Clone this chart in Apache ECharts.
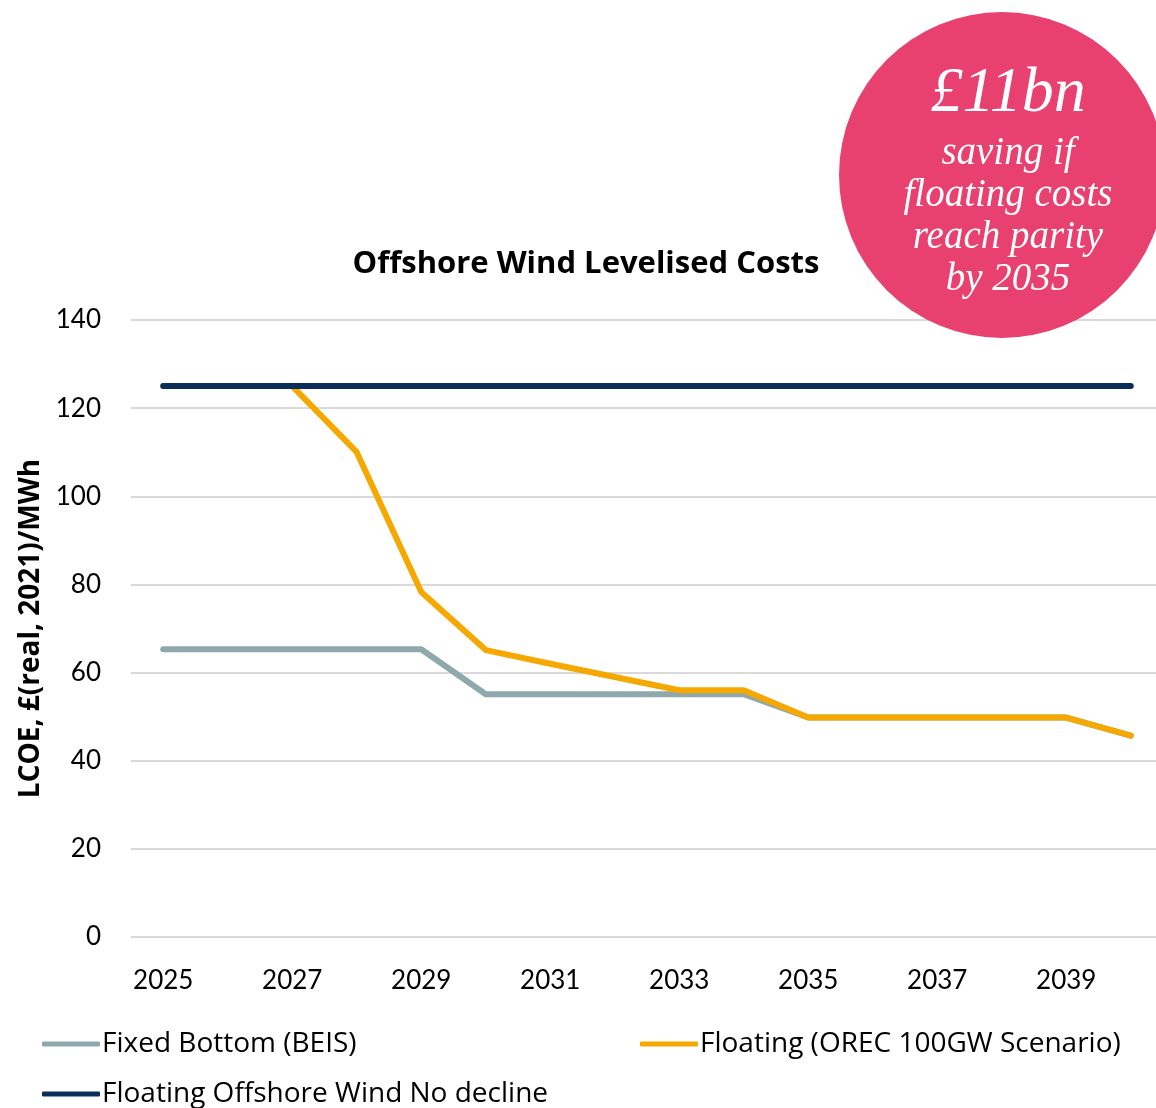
<!DOCTYPE html>
<html>
<head>
<meta charset="utf-8">
<script src="https://cdn.jsdelivr.net/npm/echarts@6/dist/echarts.min.js"></script>
<style>
html,body{margin:0;padding:0;background:#fff;}
#chart{width:1156px;height:1108px;}
</style>
</head>
<body>
<div id="chart"></div>
<script>
const years = ['2025','2026','2027','2028','2029','2030','2031','2032','2033','2034','2035','2036','2037','2038','2039','2040'];
const fixedBottom = [65.3,65.3,65.3,65.3,65.3,55.1,55.1,55.1,55.1,55.1,49.8,49.8,49.8,49.8,49.8,45.7];
const floatingOrec = [125,125,125,110,78.3,65.1,62,59,56,56,49.8,49.8,49.8,49.8,49.8,45.7];
const floatingNoDecline = [125,125,125,125,125,125,125,125,125,125,125,125,125,125,125,125];
const yTicks = {min:0, max:140, interval:20};
const seriesNames = ['Fixed Bottom (BEIS)','Floating (OREC 100GW Scenario)','Floating Offshore Wind No decline'];

const font = 'Lato, "Open Sans", sans-serif';
const font2 = '"Open Sans", Lato, sans-serif';
const chart = echarts.init(document.getElementById('chart'), null, {renderer:'canvas'});
const legendCommon = {
  orient:'horizontal', icon:'roundRect', itemWidth:58, itemHeight:5, itemGap:10, padding:0,
  textStyle:{fontFamily:font2, fontSize:28, color:'#000', padding:[0,0,0,-3]},
  selectedMode:false
};
chart.setOption({
  animation:false,
  backgroundColor:'#fff',
  title:{
    text:'Offshore Wind Levelised Costs', left:581, textAlign:'center', top:244,
    textStyle:{fontFamily:font2, fontSize:31, fontWeight:'bold', color:'#000'}
  },
  grid:{left:131, top:320, height:617, width:1032, outerBoundsMode:'none', containLabel:false},
  legend:[
    Object.assign({}, legendCommon, {data:[seriesNames[0]], left:42, top:1030}),
    Object.assign({}, legendCommon, {data:[seriesNames[1]], left:640, top:1030}),
    Object.assign({}, legendCommon, {data:[seriesNames[2]], left:42, top:1080})
  ],
  xAxis:{
    type:'category', data:years, boundaryGap:true,
    axisLine:{show:false}, axisTick:{show:false},
    axisLabel:{interval:1, fontFamily:font, fontSize:26, color:'#000', margin:31}
  },
  yAxis:{
    type:'value', min:yTicks.min, max:yTicks.max, interval:yTicks.interval,
    name:'LCOE, £(real, 2021)/MWh', nameLocation:'middle', nameGap:86,
    nameTextStyle:{fontFamily:font2, fontSize:28, fontWeight:'bold', color:'#000'},
    axisLine:{show:false}, axisTick:{show:false},
    axisLabel:{fontFamily:font, fontSize:26, color:'#000', margin:30},
    splitLine:{lineStyle:{color:'#d9d9d9', width:2}}
  },
  series:[
    {name:seriesNames[0], type:'line', data:fixedBottom, symbol:'none',
     lineStyle:{color:'#8EA8AC', width:6, cap:'round', join:'round'}, itemStyle:{color:'#8EA8AC'}},
    {name:seriesNames[1], type:'line', data:floatingOrec, symbol:'none',
     lineStyle:{color:'#F5A800', width:6, cap:'round', join:'round'}, itemStyle:{color:'#F5A800'}},
    {name:seriesNames[2], type:'line', data:floatingNoDecline, symbol:'none',
     lineStyle:{color:'#0B2D5B', width:6, cap:'round', join:'round'}, itemStyle:{color:'#0B2D5B'}}
  ],
  graphic:[
    {type:'circle', shape:{cx:1002, cy:175, r:163}, style:{fill:'#E8406F'}, z:100},
    {type:'text', x:1008, y:126, z:101, style:{text:'£11bn', fill:'#fff', textAlign:'center', textVerticalAlign:'bottom',
      font:'italic 64px "Liberation Serif", "DejaVu Serif", serif'}},
    {type:'text', x:1008, y:217, z:101, style:{text:'saving if\nfloating costs\nreach parity\nby 2035', fill:'#fff', textAlign:'center',
      textVerticalAlign:'middle', lineHeight:42,
      font:'italic 39px "Liberation Serif", "DejaVu Serif", serif'}}
  ]
});
</script>
</body>
</html>
